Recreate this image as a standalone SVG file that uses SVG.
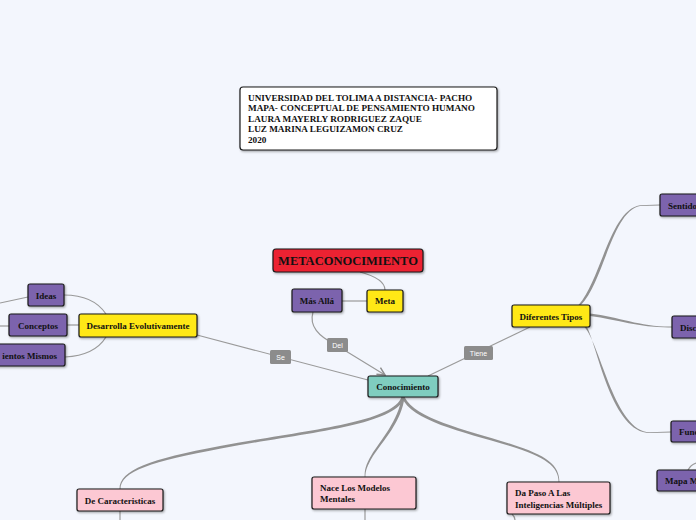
<svg xmlns="http://www.w3.org/2000/svg" width="696" height="520" viewBox="0 0 696 520">
<style>
.n{stroke:#1a1a1a;stroke-width:1.2;filter:url(#sh)}
.t{font-family:"Liberation Serif",serif;font-weight:bold;font-size:9px;fill:#111}
.big{font-size:12.5px}
.ti{font-size:9.2px}
.c{fill:none;stroke:#9a9a9a;stroke-width:1.2}
.tp{fill:#929292}
.lb{fill:#8c8c8c}
.lt{font-family:"Liberation Sans",Arial,sans-serif;font-size:7px;fill:#fff}
.pu{fill:#7b63ad}
.ye{fill:#ffe815}
.pk{fill:#fcc8d3}
</style>
<defs>
<filter id="sh" x="-20%" y="-20%" width="140%" height="160%">
<feDropShadow dx="1" dy="1.2" stdDeviation="0.8" flood-color="#000" flood-opacity="0.35"/>
</filter>
<marker id="ar" viewBox="0 0 10 10" refX="9" refY="5" markerWidth="8" markerHeight="8" orient="auto">
<path d="M1,1 L9,5 L1,9" fill="none" stroke="#8c8c8c" stroke-width="1.5"/>
</marker>
</defs>
<rect width="696" height="520" fill="#f3f6fd"/>
<g id="connectors">
<path class="c" d="M360,272 C375,276 385,282 385,290"/>
<path class="c" d="M342,301 L367,301"/>
<path class="c" d="M313,312 C309,326 318,336 336,345 L385,375" marker-end="url(#ar)"/>
<path class="c" d="M197,335 L368,380"/>
<path class="c" d="M428,376 L530,327"/>
<path class="c" d="M106,314 C98,302 85,295 64,295"/>
<path class="c" d="M67,325 L79,325"/>
<path class="c" d="M106,337 C98,350 85,356 65,357"/>
<path class="c" d="M28,297 L0,303"/>
<path class="c" d="M9,326 L0,326"/>
<path class="tp" d="M578.5,305 C601,280 610,210 640,205.2 L660,204.6 L660,205.4 L640,206 C612,211.5 604,281 581,305 Z"/>
<path class="tp" d="M590,313.5 C620,317 640,327 672,326.6 L672,327.4 C640,328 620,320 590,316 Z"/>
<path class="tp" d="M584.5,327 C601,346 615,432 650,432.2 L671,431.6 L671,432.4 L650,433 C612,433 598,349 587,327 Z"/>
<path class="c" d="M688,470 C690,466 693,464 696,463"/>
<path class="tp" d="M401.5,397 C393,423 300,431 220,446 C150,459 119.5,470 119.5,489 L120.5,489 C120.5,471 152,461.5 221,448.5 C302,433 397,426 404.5,397 Z"/>
<path class="tp" d="M401.5,397 C399,420 380,441 371.5,455 C365.5,465 364.6,470 364.6,477 L365.4,477 C365.4,471 367,466 373,456 C383,441 402,421 404.5,397 Z"/>
<path class="tp" d="M401.5,397 C412,421 460,431 510,446 C545,457 558.6,466 558.6,482 L559.4,482 C559.4,465 547,455.5 511,444 C463,429 416,419 404.5,397 Z"/>
<path class="c" d="M120,511 L120,520"/>
<path class="c" d="M365,509 L365,520"/>
<path class="c" d="M512,514 C514,516 515,518 515,520"/>
</g>
<g id="title">
<rect x="240" y="87" width="257" height="63" rx="3" fill="#fff" class="n"/>
<text class="t ti" x="248" y="101">UNIVERSIDAD DEL TOLIMA A DISTANCIA- PACHO</text>
<text class="t ti" x="248" y="111">MAPA- CONCEPTUAL  DE PENSAMIENTO HUMANO</text>
<text class="t ti" x="248" y="122">LAURA MAYERLY RODRIGUEZ ZAQUE</text>
<text class="t ti" x="248" y="132">LUZ MARINA LEGUIZAMON CRUZ</text>
<text class="t ti" x="248" y="143">2020</text>
</g>
<g id="metaconocimiento">
<rect x="273" y="249" width="150" height="23" rx="3" fill="#ec2233" class="n"/>
<text class="t big" x="348" y="265" text-anchor="middle">METACONOCIMIENTO</text>
</g>
<g id="mas-alla">
<rect x="292" y="289" width="50" height="23" rx="2" class="n pu"/>
<text class="t" x="317" y="304" text-anchor="middle">Más Allá</text>
</g>
<g id="meta">
<rect x="367" y="290" width="36" height="22" rx="2" class="n ye"/>
<text class="t" x="385" y="304" text-anchor="middle">Meta</text>
</g>
<g id="conocimiento">
<rect x="368" y="376" width="70" height="21" rx="2" fill="#7fcdbf" class="n"/>
<text class="t" x="403" y="390" text-anchor="middle">Conocimiento</text>
</g>
<g id="desarrolla">
<rect x="79" y="314" width="118" height="23" rx="2" class="n ye"/>
<text class="t" x="138" y="328.5" text-anchor="middle">Desarrolla Evolutivamente</text>
</g>
<g id="ideas">
<rect x="28" y="284" width="36" height="22" rx="2" class="n pu"/>
<text class="t" x="46" y="298.5" text-anchor="middle">Ideas</text>
</g>
<g id="conceptos">
<rect x="9" y="314" width="58" height="22" rx="2" class="n pu"/>
<text class="t" x="38" y="328.5" text-anchor="middle">Conceptos</text>
</g>
<g id="mismos">
<rect x="-20" y="344" width="85" height="22" rx="2" class="n pu"/>
<text class="t" x="57" y="358.5" text-anchor="end">ientos Mismos</text>
</g>
<g id="diferentes-tipos">
<rect x="512" y="305" width="78" height="22" rx="2" class="n ye"/>
<text class="t" x="551" y="319.5" text-anchor="middle">Diferentes Tipos</text>
</g>
<g id="sentidos">
<rect x="660" y="194" width="50" height="22" rx="2" class="n pu"/>
<text class="t" x="668" y="208.5">Sentido</text>
</g>
<g id="disc">
<rect x="672" y="316" width="40" height="22" rx="2" class="n pu"/>
<text class="t" x="680" y="330.5">Disc</text>
</g>
<g id="func">
<rect x="671" y="421" width="40" height="21" rx="2" class="n pu"/>
<text class="t" x="679" y="435">Func</text>
</g>
<g id="mapa">
<rect x="657" y="470" width="50" height="21" rx="2" class="n pu"/>
<text class="t" x="665" y="484">Mapa M</text>
</g>
<g id="caracteristicas">
<rect x="77" y="489" width="86" height="22" rx="2" class="n pk"/>
<text class="t" x="120" y="503.5" text-anchor="middle">De Caracteristicas</text>
</g>
<g id="nace">
<rect x="312" y="477" width="104" height="32" rx="2" class="n pk"/>
<text class="t" x="320" y="491">Nace Los Modelos</text>
<text class="t" x="320" y="502">Mentales</text>
</g>
<g id="da-paso">
<rect x="507" y="482" width="103" height="32" rx="2" class="n pk"/>
<text class="t" x="515" y="496">Da Paso A Las</text>
<text class="t" x="515" y="507.5">Inteligencias Múltiples</text>
</g>
<g id="labels">
<rect x="270" y="350" width="21" height="14" rx="1.5" class="lb"/>
<text class="lt" x="280.5" y="359.5" text-anchor="middle">Se</text>
<rect x="327" y="338" width="21" height="14" rx="1.5" class="lb"/>
<text class="lt" x="337.5" y="347.5" text-anchor="middle">Del</text>
<rect x="464" y="346" width="29" height="14" rx="1.5" class="lb"/>
<text class="lt" x="478.5" y="355.5" text-anchor="middle">Tiene</text>
</g>
</svg>
